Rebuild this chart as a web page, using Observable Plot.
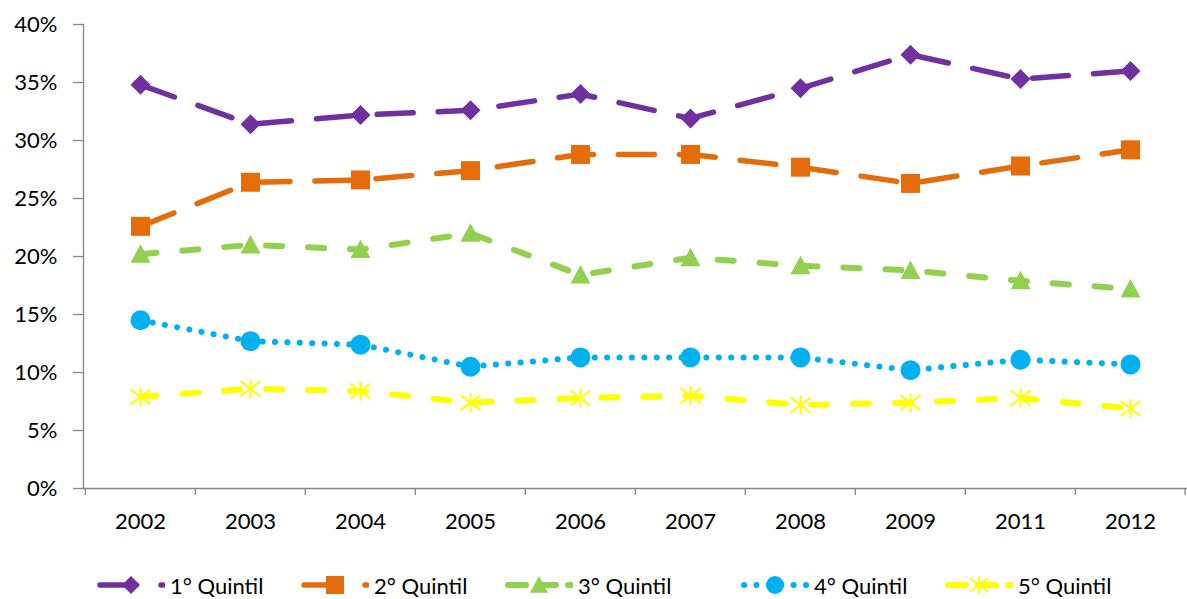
<!DOCTYPE html>
<html>
<head>
<meta charset="utf-8">
<script src="https://cdn.jsdelivr.net/npm/d3@7"></script>
<script src="https://cdn.jsdelivr.net/npm/@observablehq/plot@0.6"></script>
<style>
  body { margin: 0; background: #fff; font-family: Lato, "Open Sans", sans-serif; }
  #chart { position: relative; width: 1187px; }
  #legend { position: relative; width: 1187px; height: 39px; }
  .item { position: absolute; top: 13px; height: 24px; display: flex; align-items: center; font-size: 22px; color: #000; white-space: nowrap; }
  .item svg { margin-right: 5px; }
</style>
</head>
<body>
<div id="chart"></div>
<div id="legend"></div>
<script>
// Survey years (2010 not surveyed)
const years = ["2002", "2003", "2004", "2005", "2006", "2007", "2008", "2009", "2011", "2012"];

// Share by income quintile, percent
const quintil1 = [34.8, 31.4, 32.2, 32.6, 34.0, 31.9, 34.5, 37.4, 35.3, 36.0];
const quintil2 = [22.6, 26.4, 26.6, 27.4, 28.8, 28.8, 27.7, 26.3, 27.8, 29.2];
const quintil3 = [20.2, 21.0, 20.6, 22.0, 18.4, 19.9, 19.2, 18.8, 17.9, 17.2];
const quintil4 = [14.5, 12.7, 12.4, 10.5, 11.3, 11.3, 11.3, 10.2, 11.1, 10.7];
const quintil5 = [7.9, 8.6, 8.4, 7.4, 7.8, 8.0, 7.2, 7.4, 7.8, 6.9];

const seriesNames = ["1° Quintil", "2° Quintil", "3° Quintil", "4° Quintil", "5° Quintil"];
const yTicks = [0, 5, 10, 15, 20, 25, 30, 35, 40];

// Marker shapes, drawn in a box of half-size r
const rad = size => Math.sqrt(size / Math.PI);
const diamond = {draw(c, s) { const r = rad(s); c.moveTo(0, -r); c.lineTo(r, 0); c.lineTo(0, r); c.lineTo(-r, 0); c.closePath(); }};
const square = {draw(c, s) { const r = rad(s); c.moveTo(-r, -r); c.lineTo(r, -r); c.lineTo(r, r); c.lineTo(-r, r); c.closePath(); }};
const triangle = {draw(c, s) { const r = rad(s); c.moveTo(0, -r); c.lineTo(r, r * 0.85); c.lineTo(-r, r * 0.85); c.closePath(); }};
const circle = {draw(c, s) { const r = rad(s); c.moveTo(r, 0); c.arc(0, 0, r, 0, 2 * Math.PI); }};
const star = {draw(c, s) {
  const r = rad(s);
  c.moveTo(-r, -0.75 * r); c.lineTo(r, 0.75 * r);
  c.moveTo(-r, 0.75 * r); c.lineTo(r, -0.75 * r);
  c.moveTo(0, -0.95 * r); c.lineTo(0, 0.95 * r);
}};

const styles = [
  {color: "#7030A0", dash: "36,25", width: 5.5, symbol: diamond, r: 10, filled: true},
  {color: "#E46C0A", dash: "36,25", width: 5.5, symbol: square, r: 9.5, filled: true},
  {color: "#92D050", dash: "16,26", width: 6, symbol: triangle, r: 10, filled: true},
  {color: "#00B0F0", dash: "0.1,12.3", width: 6, symbol: circle, r: 10, filled: true},
  {color: "#FFFF00", dash: "16,26", width: 6, symbol: star, r: 10, filled: false}
];

const allSeries = [quintil1, quintil2, quintil3, quintil4, quintil5];
const tables = allSeries.map((vals, k) => years.map((year, i) => ({year, value: vals[i], serie: seriesNames[k]})));

const width = 1187, height = 560;
const marginLeft = 83, marginRight = 0;
const bw = (width - marginLeft - marginRight) / years.length;
const axisColor = "#868686";

const marks = [];
tables.forEach((rows, k) => {
  const st = styles[k];
  marks.push(Plot.line(rows, {x: "year", y: "value", stroke: st.color, strokeWidth: st.width,
    strokeDasharray: st.dash, strokeLinecap: "round", strokeLinejoin: "round"}));
});
tables.forEach((rows, k) => {
  const st = styles[k];
  marks.push(Plot.dot(rows, st.filled
    ? {x: "year", y: "value", symbol: st.symbol, r: st.r, fill: st.color, stroke: "none"}
    : {x: "year", y: "value", symbol: st.symbol, r: st.r, fill: "none", stroke: st.color, strokeWidth: 2}));
});

const chart = Plot.plot({
  width, height,
  marginLeft, marginRight, marginTop: 24, marginBottom: 72,
  style: {fontFamily: "Lato, 'Open Sans', sans-serif", fontSize: "22px", color: "#000", background: "#fff", overflow: "visible"},
  x: {type: "band", domain: years, padding: 0, axis: null, label: null},
  y: {domain: [0, 40], axis: null, label: null},
  marks: [
    Plot.frame({anchor: "left", stroke: axisColor, strokeWidth: 1.3}),
    Plot.frame({anchor: "bottom", stroke: axisColor, strokeWidth: 1.3}),
    Plot.axisY({ticks: yTicks, tickSize: 10, tickPadding: 16, tickFormat: d => d + "%", label: null, stroke: axisColor, fill: "#000", strokeWidth: 1.3}),
    // category boundary ticks
    Plot.axisX({ticks: years, tickSize: 7, tickFormat: () => "", label: null, dx: -bw / 2, stroke: axisColor, strokeWidth: 1.3}),
    Plot.axisX({ticks: years.slice(-1), tickSize: 7, tickFormat: () => "", label: null, dx: bw / 2 - 0.7, stroke: axisColor, strokeWidth: 1.3}),
    Plot.axisX({ticks: years, tickSize: 0, tickPadding: 25, label: null, fill: "#000"}),
    ...marks
  ]
});
document.getElementById("chart").appendChild(chart);

// Legend
const legendX = [97, 301, 505, 741, 945];
const legend = document.getElementById("legend");
styles.forEach((st, k) => {
  const item = document.createElement("div");
  item.className = "item";
  item.style.left = legendX[k] + "px";
  const sw = 68, cy = 12, cx = 34;
  const ns = "http://www.w3.org/2000/svg";
  const svg = document.createElementNS(ns, "svg");
  svg.setAttribute("width", sw); svg.setAttribute("height", 24);
  const line = document.createElementNS(ns, "line");
  line.setAttribute("x1", 3); line.setAttribute("x2", sw - 2);
  line.setAttribute("y1", cy); line.setAttribute("y2", cy);
  line.setAttribute("stroke", st.color);
  line.setAttribute("stroke-width", st.width);
  line.setAttribute("stroke-linecap", "round");
  line.setAttribute("stroke-dasharray", k === 2 || k === 4 ? "18,12" : st.dash);
  svg.appendChild(line);
  const p = d3.path();
  st.symbol.draw(p, Math.PI * 9 * 9);
  const mk = document.createElementNS(ns, "path");
  mk.setAttribute("d", p.toString());
  mk.setAttribute("transform", `translate(${cx},${cy})`);
  if (st.filled) { mk.setAttribute("fill", st.color); }
  else { mk.setAttribute("fill", "none"); mk.setAttribute("stroke", st.color); mk.setAttribute("stroke-width", 2); }
  svg.appendChild(mk);
  item.appendChild(svg);
  const label = document.createElement("span");
  label.textContent = seriesNames[k];
  item.appendChild(label);
  legend.appendChild(item);
});
</script>
</body>
</html>
